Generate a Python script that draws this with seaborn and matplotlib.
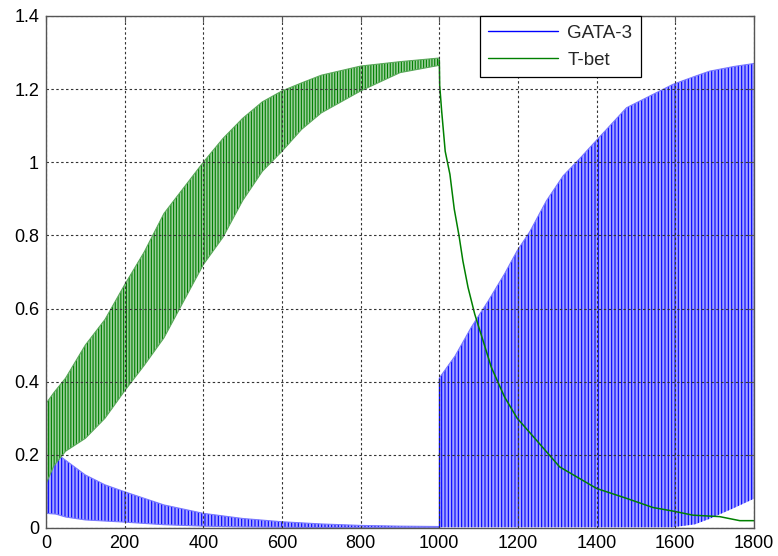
import numpy as np
import matplotlib
matplotlib.use('Agg')
import matplotlib.pyplot as plt
import seaborn as sns
from matplotlib.lines import Line2D
from matplotlib.ticker import FixedLocator

# ---- T-bet: oscillating part (0-1000), upper / lower envelope
tbet_x = [0, 20, 50, 100, 150, 200, 250, 300, 350, 400, 450, 500, 550, 600, 650, 700, 800, 900, 1000]
tbet_hi = [0.34, 0.37, 0.41, 0.50, 0.57, 0.665, 0.755, 0.86, 0.93, 1.0, 1.065, 1.12, 1.165, 1.195,
           1.217, 1.238, 1.263, 1.275, 1.285]
tbet_lo = [0.12, 0.17, 0.21, 0.245, 0.30, 0.375, 0.445, 0.52, 0.62, 0.72, 0.795, 0.895, 0.975, 1.03,
           1.09, 1.135, 1.195, 1.245, 1.265]

# ---- T-bet: decay after 1000
tbet_tail_x = [1000, 1001, 1006, 1015, 1027, 1038, 1050, 1060, 1073, 1090, 1111, 1132, 1166, 1198,
               1247, 1306, 1400, 1476, 1543, 1595, 1645, 1713, 1764, 1800]
tbet_tail_y = [1.28, 1.21, 1.14, 1.03, 0.967, 0.872, 0.80, 0.73, 0.658, 0.585, 0.513, 0.44, 0.358, 0.30,
               0.24, 0.167, 0.108, 0.081, 0.056, 0.046, 0.035, 0.031, 0.02, 0.02]

# ---- GATA-3: decaying oscillation (0-1000)
gata_x1 = [0, 25, 50, 100, 150, 200, 300, 400, 500, 600, 700, 800, 900, 1000]
gata_hi1 = [0.20, 0.205, 0.185, 0.145, 0.118, 0.099, 0.063, 0.04, 0.026, 0.017, 0.011, 0.007, 0.005, 0.004]
gata_lo1 = [0.04, 0.038, 0.03, 0.022, 0.019, 0.016, 0.009, 0.005, 0.003, 0.002, 0.001, 0.001, 0.001, 0.001]

# ---- GATA-3: growing oscillation (1000-1800)
gata_x2 = [1000, 1040, 1082, 1124, 1166, 1198, 1230, 1272, 1315, 1357, 1391, 1476, 1594, 1650, 1687, 1750, 1800]
gata_hi2 = [0.41, 0.47, 0.55, 0.62, 0.695, 0.758, 0.81, 0.894, 0.963, 1.01, 1.05, 1.149, 1.213, 1.235,
            1.249, 1.262, 1.27]
gata_lo2 = [0.002, 0.002, 0.002, 0.002, 0.002, 0.002, 0.002, 0.002, 0.002, 0.002, 0.002, 0.002, 0.002,
            0.01, 0.025, 0.055, 0.08]

x_ticks = [0, 200, 400, 600, 800, 1000, 1200, 1400, 1600, 1800]
y_ticks = [0, 0.2, 0.4, 0.6, 0.8, 1.0, 1.2, 1.4]
y_labels = ['0', '0.2', '0.4', '0.6', '0.8', '1', '1.2', '1.4']
series_names = ['GATA-3', 'T-bet']

sns.set_style('white')
plt.rcParams['font.family'] = ['Liberation Sans', 'DejaVu Sans']
plt.rcParams['hatch.linewidth'] = 0.8

fig = plt.figure(figsize=(7.78, 5.56), dpi=100)
ax = fig.add_axes([0.0591, 0.0504, 0.910, 0.9209])

# GATA-3 bands (dense oscillation drawn as hatched band)
ax.fill_between(gata_x1, gata_lo1, gata_hi1, facecolor='#a4a4ff', edgecolor='blue',
                hatch='|||||', linewidth=0, zorder=1)
ax.fill_between(gata_x2, gata_lo2, gata_hi2, facecolor='#a4a4ff', edgecolor='blue',
                hatch='|||||', linewidth=0, zorder=1)
for xs, ys in [(gata_x1, gata_hi1), (gata_x1, gata_lo1), (gata_x2, gata_hi2)]:
    sns.lineplot(x=xs, y=ys, color='#7a7aff', lw=0.8, estimator=None, ax=ax, zorder=1.5)
ax.vlines(gata_x2[0], 0, gata_hi2[0], color='blue', lw=1, zorder=1.5)

# T-bet band + tail
ax.fill_between(tbet_x, tbet_lo, tbet_hi, facecolor='#9ccf9c', edgecolor='green',
                hatch='||||||', linewidth=0, zorder=2)
for ys in [tbet_hi, tbet_lo]:
    sns.lineplot(x=tbet_x, y=ys, color='#5aa85a', lw=0.8, estimator=None, ax=ax, zorder=2.2)
sns.lineplot(x=tbet_tail_x, y=tbet_tail_y, color='green', lw=1.1, estimator=None, ax=ax, zorder=2.3)

ax.set_xlim(0, 1800)
ax.set_ylim(0, 1.4)
ax.xaxis.set_major_locator(FixedLocator(x_ticks))
ax.set_xticklabels([str(v) for v in x_ticks])
ax.yaxis.set_major_locator(FixedLocator(y_ticks))
ax.set_yticklabels(y_labels)
ax.set_xlabel('')
ax.set_ylabel('')

ax.set_axisbelow(False)
ax.grid(True, linestyle=(0, (2.2, 2.2)), color='#333333', linewidth=0.8, zorder=3)
ax.tick_params(direction='in', length=4, width=0.8, colors='#555555', labelcolor='black',
               labelsize=13, pad=5, top=True, right=True)
for sp in ax.spines.values():
    sp.set_color('#555555')
    sp.set_linewidth(1.0)
    sp.set_zorder(4)

handles = [Line2D([], [], color='blue', lw=1), Line2D([], [], color='green', lw=1)]
leg = ax.legend(handles, series_names, loc='upper right', bbox_to_anchor=(0.84, 1.0),
                borderaxespad=0, fancybox=False, edgecolor='black', framealpha=1,
                handlelength=3.7, handletextpad=0.5, labelspacing=0.55, borderpad=0.45,
                fontsize=13.5)
leg.get_frame().set_linewidth(0.9)
leg.set_zorder(5)

fig.savefig('out.png', dpi=100)
